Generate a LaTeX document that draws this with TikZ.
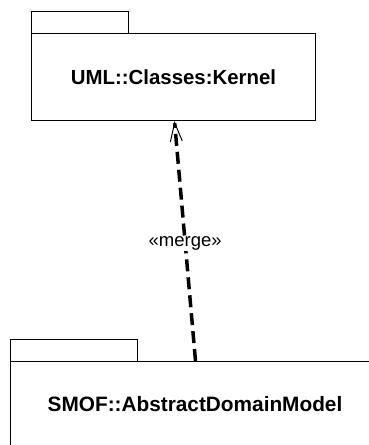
\documentclass[tikz,border=0pt]{standalone}
\usepackage{fontspec}
\setmainfont{Liberation Sans}
\usetikzlibrary{arrows.meta,calc}
\begin{document}
\begin{tikzpicture}[x=1pt,y=-1pt,
  pkgbody/.style={draw=black,line width=1pt,fill=white,anchor=north west,inner sep=0pt,
    font=\fontsize{20.4}{24}\selectfont\bfseries},
  pkgtab/.style={draw=black,line width=1pt,fill=white,anchor=north west,inner sep=0pt},
  mergeline/.style={line width=3.5pt,dash pattern=on 12pt off 6pt,
    -{Straight Barb[length=19pt,width=12pt,line width=1pt]}},
  stereo/.style={fill=white,inner sep=1pt,font=\fontsize{18.5}{22}\selectfont}]
\useasboundingbox (0,0) rectangle (369,445);
\clip (0,0) rectangle (369,445);
% upper package
\node[pkgtab,minimum width=97pt,minimum height=22pt] (kerneltab) at (31,11) {};
\node[pkgbody,minimum width=284pt,minimum height=87pt] (kernel) at (31,33) {UML::Classes:Kernel};
% lower package (runs off the right and bottom edges)
\node[pkgtab,minimum width=127pt,minimum height=22pt] (smoftab) at (10,339) {};
\node[pkgbody,minimum width=369pt,minimum height=86pt,font=\fontsize{20.8}{24}\selectfont\bfseries] (smof) at (10,361) {SMOF::AbstractDomainModel};
% merge dependency
\coordinate (mfrom) at ([xshift=0.5pt]smof.north);
\coordinate (mto) at ([xshift=1pt]kernel.south);
\draw[mergeline] (mfrom) -- (mto);
\node[stereo] (mlabel) at ($(mfrom)!0.49!(mto)$) {«merge»};
\end{tikzpicture}
\end{document}
